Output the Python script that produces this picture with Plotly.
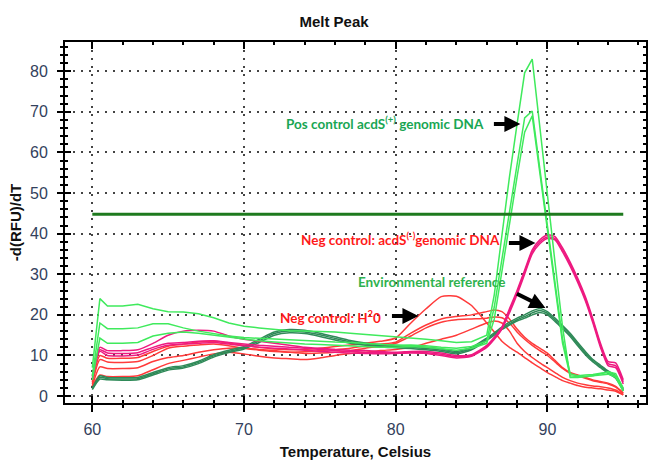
import plotly.graph_objects as go

# ---------------- data ----------------
temps = [60, 60.5, 61, 62, 63, 64, 65, 66, 67, 68, 69, 70, 71, 72, 73, 74, 75, 76, 77, 78,
         79, 80, 81, 82, 83, 84, 85, 86, 86.5, 87, 87.5, 88, 88.5, 89, 89.5, 90, 90.5, 91,
         91.5, 92, 92.5, 93, 93.5, 94, 94.5, 95]

pos_a = [7, 24, 22.2, 22.2, 22.6, 21.5, 20.8, 20.7, 20.3, 19.3, 18, 17.2, 16.8, 16.4, 16.1, 16, 15.9, 15.8, 15.5, 15.2,
         15, 14.6, 14.3, 14, 13.6, 13.2, 13.4, 15, 25, 40, 54, 67, 79.6, 83, 66, 49, 33, 17,
         4.6, 4.6, 4.8, 5, 5.5, 6, 5.5, 2]
pos_b = [5, 18, 16.6, 16.6, 16.8, 17.8, 17.8, 16.8, 16, 15.4, 14.8, 14.4, 14.2, 14, 13.8, 13.6, 13.5, 13.3, 13.2, 13,
         12.8, 12.5, 12.6, 12.4, 12, 11.8, 12.2, 13.5, 22, 34, 46, 57, 68.5, 70.2, 56, 42, 28, 14,
         5.5, 5, 5.2, 5.3, 5.6, 5.8, 5, 1.5]
pos_c = [4, 14.3, 13, 13, 13.2, 14.8, 15.5, 15.8, 15.5, 15, 14.5, 14, 13.6, 13.3, 13, 12.8, 12.7, 12.5, 12.3, 12.2,
         12, 12, 12.2, 12, 11.6, 11.3, 11.8, 13, 19, 31, 43, 54, 65, 69, 55, 41, 27, 13,
         5, 4.8, 4.8, 5, 5.2, 5.4, 4.6, 1.2]

neg_a = [5, 12, 11.2, 11.2, 11.4, 13, 15, 16, 16.2, 16, 14.8, 14, 13.5, 13, 12.5, 12, 11.8, 11.5, 11.3, 11.2,
         11, 10.8, 11, 11, 10.6, 10, 10.2, 12.5, 14.5, 17, 21.5, 26, 31, 36, 38.5, 39.7, 39.3, 36.5,
         33, 29, 24.5, 19, 13, 8.5, 8.2, 4]
neg_b = [4.5, 11.4, 10.6, 10.5, 10.7, 12, 13, 13.2, 13.5, 13.6, 13.2, 12.8, 12.5, 12.3, 12, 11.8, 11.5, 11.2, 11, 10.8,
         10.7, 10.6, 10.8, 10.7, 10.3, 9.7, 10, 12.2, 14.2, 16.7, 21, 25.5, 30.5, 35.5, 38, 39.2, 38.8, 36,
         32.5, 28.5, 24, 18.5, 12.5, 8, 7.5, 3.5]
neg_c = [4, 11, 10, 9.9, 10.1, 11.5, 12.5, 12.8, 13, 13.2, 12.8, 12.4, 12, 11.8, 11.6, 11.3, 11, 10.8, 10.6, 10.5,
         10.4, 10.5, 10.6, 10.5, 10, 9.4, 9.8, 12, 14, 16.5, 20.5, 25, 30, 35, 37.5, 38.8, 38.5, 35.5,
         32, 28, 23.5, 18, 12, 7.5, 7, 3]

h2o_a = [3.5, 10, 9.3, 9.3, 9.5, 11, 12.3, 12.8, 13.3, 13.5, 13, 12.5, 12, 11.6, 11.4, 11.5, 11.8, 12.2, 12.6, 13,
         13.5, 14.3, 18, 21.5, 24.5, 24.6, 22.3, 18, 15.8, 13.5, 12, 10.8, 9.5, 8.2, 7, 5.8, 4.8, 3.8,
         3.2, 2.6, 2.2, 2, 1.8, 1.5, 1.2, 0.3]
h2o_b = [3, 9, 8.4, 8.3, 8.5, 10, 11.8, 12.3, 12.6, 12.8, 12.4, 11.8, 11.3, 11, 10.8, 10.9, 11.2, 11.5, 11.8, 12.3,
         12.8, 13.3, 15.5, 17.5, 19, 19.6, 20, 20.8, 21.2, 20.8, 19, 16.5, 14.5, 13, 11.8, 10.6, 8.8, 7,
         5.8, 5.2, 4.6, 4, 3.6, 3.2, 2.4, 0.8]
h2o_c = [2.5, 7.2, 6.8, 6.8, 7, 8.5, 9.5, 10, 10.8, 11.4, 11.8, 11.8, 11.5, 11.2, 10.8, 10.5, 10.6, 10.8, 11.2, 11.8,
         12.3, 13, 14.8, 16.8, 18.2, 18.8, 19, 19.2, 19.5, 19.3, 18, 15.8, 14, 12.5, 11.2, 10, 8.4, 6.8,
         5.6, 5, 4.4, 3.8, 3.4, 3, 2.2, 0.6]
h2o_d = [2.5, 5.2, 4.8, 4.8, 5, 6.5, 8, 8.8, 9.6, 10.4, 10.8, 10.4, 9.8, 9.4, 9.2, 9, 9.4, 10, 10.5, 10.8,
         11.2, 11.5, 12, 13, 14, 15, 16.5, 18, 18.5, 18, 16, 13, 11, 9.5, 8.2, 7, 5.8, 4.6,
         3.8, 3.2, 2.8, 2.5, 2.3, 2, 1.5, 0.3]

env_a = [2, 5, 4.6, 4.5, 4.6, 5.8, 7, 7.5, 8.6, 10.2, 11.3, 12.2, 14, 15.8, 16.4, 16.2, 15.5, 14.6, 13.7, 13.1,
         12.7, 12.5, 12.3, 12, 11.6, 11, 12, 14.3, 15.6, 17, 18.2, 19.2, 20, 21, 21.6, 20.8, 19.2, 17.4,
         15.5, 13.2, 11, 9, 7.6, 6.2, 5, 1.8]
env_b = [1.8, 4.6, 4.3, 4.2, 4.3, 5.5, 6.7, 7.2, 8.3, 9.9, 11, 11.9, 13.6, 15.4, 16, 15.8, 15.1, 14.2, 13.4, 12.8,
         12.4, 12.2, 12, 11.7, 11.3, 10.7, 11.7, 14, 15.3, 16.7, 17.8, 18.8, 19.6, 20.5, 21.1, 20.4, 18.8, 17,
         15.1, 12.8, 10.6, 8.7, 7.3, 5.9, 4.7, 1.5]
env_c = [1.6, 4.2, 4, 3.9, 4, 5.2, 6.4, 6.9, 8, 9.6, 10.7, 11.6, 13.2, 15, 15.6, 15.4, 14.7, 13.8, 13, 12.5,
         12.1, 11.9, 11.7, 11.4, 11, 10.4, 11.4, 13.7, 15, 16.4, 17.5, 18.5, 19.2, 20, 20.6, 20, 18.4, 16.6,
         14.7, 12.4, 10.2, 8.4, 7, 5.6, 4.4, 1.3]

threshold = 44.8

# ---------------- styles ----------------
C_POS = "#3fea5c"
C_NEG = "#ee1a80"
C_H2O = "#ff3a3a"
C_ENV = "#2f8a58"

fig = go.Figure()

def add(series, color, shape="spline"):
    for s in series:
        line = dict(color=color, width=1.5)
        if shape == "spline":
            line.update(shape="spline", smoothing=0.6)
        fig.add_trace(go.Scatter(x=temps, y=s, mode="lines", line=line,
                                 showlegend=False, hoverinfo="skip"))

add([h2o_a, h2o_b, h2o_c, h2o_d], C_H2O)
add([env_a, env_b, env_c], C_ENV)
add([neg_a, neg_b, neg_c], C_NEG)
add([pos_a, pos_b, pos_c], C_POS, shape="linear")

fig.add_trace(go.Scatter(x=[temps[0], temps[-1]], y=[threshold, threshold], mode="lines",
                         line=dict(color="#1e7a1e", width=3), showlegend=False, hoverinfo="skip"))

# empty trace to activate the overlay axes (inside/mirrored ticks)
fig.add_trace(go.Scatter(x=[], y=[], xaxis="x2", yaxis="y2", showlegend=False))

XR = [58.2, 96.5]
YR = [-1.7, 87.2]
tickfont = dict(family="Liberation Sans, Arial", size=16, color="#33415c")
grid = dict(showgrid=True, gridcolor="#444444", gridwidth=1.5, griddash="2px,6px")

fig.update_layout(
    width=649, height=467,
    margin=dict(l=65, r=3, t=42, b=64, autoexpand=False),
    paper_bgcolor="white", plot_bgcolor="white",
    title=dict(text="<b>Melt Peak</b>", x=0.463, xref="paper", xanchor="center",
               y=1 - 22 / 467, yref="container", yanchor="middle",
               font=dict(family="Liberation Sans, Arial", size=15, color="#111111")),
    xaxis=dict(range=XR, tick0=60, dtick=10, ticks="outside", ticklen=7, tickwidth=2,
               tickcolor="black", showline=True, linewidth=2, linecolor="black", mirror=True,
               zeroline=False, tickfont=tickfont, ticklabelstandoff=4, automargin=False,
               minor=dict(dtick=2, tick0=60, ticks="outside", ticklen=3, tickwidth=1.5,
                          tickcolor="black", showgrid=False),
               title=dict(text="<b>Temperature, Celsius</b>", standoff=9,
                          font=dict(family="Liberation Sans, Arial", size=15, color="#111111")),
               **grid),
    yaxis=dict(range=YR, tick0=0, dtick=10, ticks="outside", ticklen=6, tickwidth=2,
               tickcolor="black", showline=True, linewidth=2, linecolor="black", mirror=True,
               zeroline=False, tickfont=tickfont, ticklabelstandoff=6, automargin=False,
               minor=dict(dtick=2, tick0=0, ticks="outside", ticklen=3, tickwidth=1.5,
                          tickcolor="black", showgrid=False),
               title=dict(text="<b>-d(RFU)/dT</b>", standoff=5,
                          font=dict(family="Liberation Sans, Arial", size=15, color="#111111")),
               **grid),
    xaxis2=dict(range=XR, overlaying="x", anchor="y", side="bottom", tick0=60, dtick=10,
                ticks="inside", ticklen=7, tickwidth=2, tickcolor="black", showticklabels=False,
                showgrid=False, zeroline=False, showline=False, mirror="ticks", automargin=False,
                minor=dict(dtick=2, tick0=60, ticks="inside", ticklen=3, tickwidth=1.5,
                           tickcolor="black", showgrid=False)),
    yaxis2=dict(range=YR, overlaying="y", anchor="x", side="left", tick0=0, dtick=10,
                ticks="inside", ticklen=6, tickwidth=2, tickcolor="black", showticklabels=False,
                showgrid=False, zeroline=False, showline=False, mirror="ticks", automargin=False,
                minor=dict(dtick=2, tick0=0, ticks="inside", ticklen=3, tickwidth=1.5,
                           tickcolor="black", showgrid=False)),
)

lab_font = "Lato, Open Sans, sans-serif"
labels = [
    ("<b>Pos control acdS<sup>(+)</sup> genomic DNA</b>", 79.3, 67.2, "#19a653"),
    ("<b>Neg control: acdS<sup>(-)</sup>genomic DNA</b>", 80.3, 38.7, "#ff1a1a"),
    ("<b>Environmental reference</b>", 82.35, 28.1, "#2fb24e"),
    ("<b>Neg control: H<sup>2</sup>0</b>", 75.7, 19.5, "#ff1a1a"),
]
for text, x, y, col in labels:
    fig.add_annotation(x=x, y=y, text=text, showarrow=False, xanchor="center", yanchor="middle",
                       font=dict(family=lab_font, size=13.5, color=col))

arrows = [(88.22, 67.0, -28, 0), (89.21, 37.7, -28, 0), (89.87, 21.7, -30, -15), (81.5, 19.7, -28, 0)]
for x, y, ax, ay in arrows:
    fig.add_annotation(x=x, y=y, ax=ax, ay=ay, text="", showarrow=True, arrowhead=2,
                       arrowsize=0.8, arrowwidth=4, arrowcolor="black", standoff=0)

fig.write_html("out.html", config={"displayModeBar": False},
               post_script="document.body.style.margin='0';")
